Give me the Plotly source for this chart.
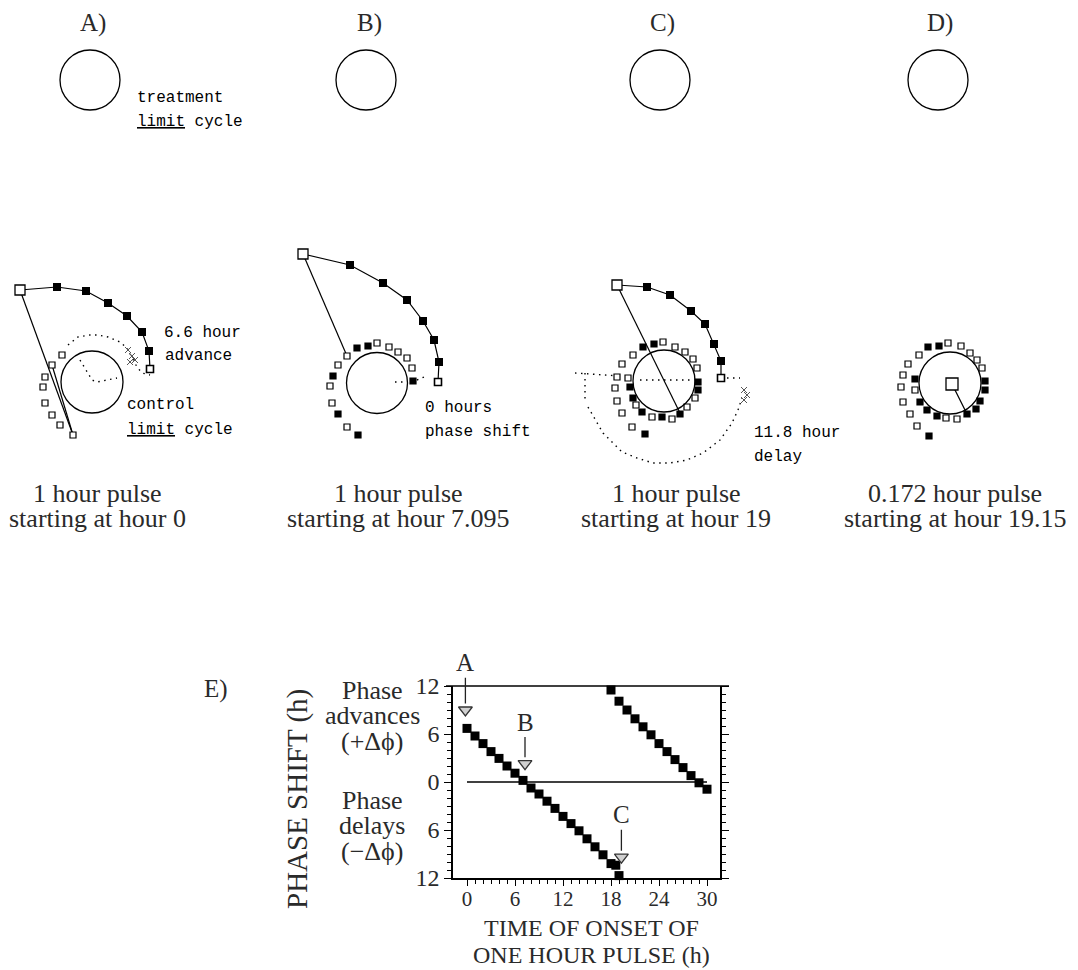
import plotly.graph_objects as go

W, H = 1078, 970

# ======================= DATA : panels A-D (phase plane, control limit cycle centred at 0,0) =======================
PANEL_LETTERS = ["A)", "B)", "C)", "D)"]
PULSE_LENGTH = ["1", "1", "1", "0.172"]
PULSE_START = ["0", "7.095", "19", "19.15"]

CONTROL_RADIUS = [31, 30.5, 31, 31]
TREATMENT_CX = [-2, -11, -4, -12]
TREATMENT_CY = [302, 303, 301, 303]
TREATMENT_RADIUS = [30, 30, 30, 30]

# trajectory during/after pulse (first point = state at end of pulse, drawn as large open square)
A_ARC_X = [-72, -35, -6, 16, 35, 50, 57, 58]
A_ARC_Y = [92, 95, 91, 79, 66, 50, 31, 13]
B_ARC_X = [-74, -27, 6, 30, 46, 57, 62, 61]
B_ARC_Y = [129, 118, 100, 83, 62, 43, 21, 1]
C_ARC_X = [-47, -17, 6, 27, 41, 50, 57, 57]
C_ARC_Y = [96, 94, 86, 70, 57, 37, 20, 3]
D_ARC_X = [2]
D_ARC_Y = [-1]

# straight links (segments separated by None)
A_LINK_X = [-19, -72, None, -40, -19]
A_LINK_Y = [-53, 92, None, 17, -53]
B_LINK_X = [-74, -30]
B_LINK_Y = [129, 27]
C_LINK_X = [-47, 16]
C_LINK_Y = [96, -32]
D_LINK_X = [2, 17]
D_LINK_Y = [-1, -31]

# relaxation spiral squares (1 = filled, 0 = open)
A_SPIRAL_X = [-30, -40, -47, -49, -47, -40, -32, -19]
A_SPIRAL_Y = [27, 17, 5, -5, -21, -33, -43, -53]
A_SPIRAL_FILL = [0, 0, 0, 0, 0, 0, 0, 0]
B_SPIRAL_X = [-30, -20, -9, 0, 12, 21, 30, 35, 36, -39, -44, -47, -45, -39, -30, -19]
B_SPIRAL_Y = [27, 35, 37, 40, 36, 31, 25, 15, 2, 18, 7, -3, -20, -31, -44, -52]
B_SPIRAL_FILL = [0, 1, 1, 0, 0, 0, 0, 0, 1, 0, 1, 0, 0, 1, 0, 1]
C_SPIRAL_X = [-31, -21, -10, -1, 11, 21, 29, 33, 34, 34, 31, 23, 16, 8, -2, -12, -22, -28, -31, -34, -36,
              -42, -47, -49, -47, -42, -32, -19]
C_SPIRAL_Y = [26, 34, 37, 39, 34, 29, 22, 13, -1, -9, -17, -26, -33, -38, -36, -36, -31, -24, -17, -6, 3,
              17, 4, -7, -20, -32, -46, -53]
C_SPIRAL_FILL = [0, 1, 1, 0, 0, 0, 0, 0, 1, 1, 0, 0, 1, 0, 1, 0, 1, 0, 1, 1, 0,
                 0, 0, 0, 0, 0, 0, 1]
D_SPIRAL_X = [-31, -22, -11, -2, 11, 20, 27, 32, 35, 35, 30, 26, 17, 7, -4, -13, -23, -30, -35, -35,
              -42, -47, -49, -47, -40, -33, -21]
D_SPIRAL_Y = [28, 36, 37, 40, 37, 30, 23, 15, 2, -7, -18, -26, -31, -36, -35, -33, -27, -19, -7, 4,
              19, 8, -4, -19, -31, -43, -53]
D_SPIRAL_FILL = [0, 1, 1, 0, 0, 0, 0, 0, 1, 1, 1, 1, 1, 0, 0, 1, 1, 1, 0, 1,
                 0, 0, 0, 0, 0, 0, 1]

# dotted traces (control-cycle trajectory without pulse), paths separated by None
A_DOT_X = [-24, -14, -2, 6, 16, 28, 35, 40, 45, 50, 58, None, -12, -9, -5, 0, 5, 15, 25]
A_DOT_Y = [37, 45, 47, 47, 45, 40, 34, 25, 15, 9, 7, None, 22, 17, 9, 2, 0, 2, 4]
B_DOT_X = [18, 28, None, 40, 47]
B_DOT_Y = [1, 1, None, 3, 6]
C_DOT_X = [-89, -44, None, -79, -79, None, -76, -61, -42, -27, -11, 6, 23, 39, 56, 68, 74, 78,
           None, 57, 76, None, -24, 26]
C_DOT_Y = [8, 5, None, 8, -19, None, -26, -52, -71, -77, -82, -82, -79, -72, -59, -42, -29, -17,
           None, 3, 3, None, 1, 1]
D_DOT_X = []
D_DOT_Y = []

# cross-hatched blobs
A_HATCH_X = [36, 40, 38, 43]
A_HATCH_Y = [32, 26, 20, 22]
C_HATCH_X = [80, 83, 80]
C_HATCH_Y = [-9, -14, -19]

# panel notes (text, x, y in panel units)
A_NOTES = [("6.6 hour", 70, 49), ("advance", 71, 26), ("control", 33, -23),
           ("<u>limit</u> cycle", 33, -48), ("treatment", 43, 284), ("<u>limit</u> cycle", 43, 260)]
B_NOTES = [("0 hours", 46, -25), ("phase shift", 46, -49)]
C_NOTES = [("11.8 hour", 88, -52), ("delay", 88, -76)]
D_NOTES = []

# ======================= DATA : panel E (phase response curve) =======================
E_ONSET_1 = [0, 1, 2, 3, 4, 5, 6, 7, 8, 9, 10, 11, 12, 13, 14, 15, 16, 17, 18, 18.6, 19]
E_SHIFT_1 = [6.7, 5.75, 4.8, 3.8, 2.95, 2.0, 1.1, 0.2, -0.75, -1.5, -2.4, -3.3, -4.3, -5.2, -6.1,
             -7.1, -8.1, -9.1, -10.2, -10.4, -11.7]
E_ONSET_2 = [18, 19, 20, 21, 22, 23, 24, 25, 26, 27, 28, 29, 30]
E_SHIFT_2 = [11.5, 10.1, 9.0, 7.9, 6.9, 5.9, 4.8, 3.8, 2.8, 1.8, 0.8, -0.1, -0.9]
E_ZERO_X = [0, 30]
E_ZERO_Y = [0, 0]
E_ARROW_LABELS = ["A", "B", "C"]
E_ARROW_X = [-0.2, 7.25, 19.3]
E_ARROW_MARK_Y = [9.0, 2.3, -9.4]
E_ARROW_TIP_Y = [9.8, 3.1, -8.6]
E_ARROW_LABEL_Y = [14.9, 7.5, -4.1]
E_X_TICKS = [0, 6, 12, 18, 24, 30]
E_Y_TICKS = [-12, -6, 0, 6, 12]
E_Y_TICKTEXT = ["12", "6", "0", "6", "12"]

# ======================= LAYOUT helpers =======================
OFF = 8  # default page (body) margin of the html page
PANEL_CX_PX = [92, 377, 664, 950]
PANEL_CY_PX = [382, 383, 381, 383]
CAPTION_X_PX = [97, 398, 676, 955]
LETTER_X_PX = [93, 369, 662, 940]
P_XR = [[-84, 125], [-95, 125], [-95, 125], [-95, 120]]
P_YR = [-92, 340]

SERIF = "Liberation Serif"
MONO = "Liberation Mono"
TXT = "#2a2a2a"


def px(xp):
    return (xp - OFF) / W


def py(yp):
    return 1 - (yp - OFF) / H


fig = go.Figure()
layout = dict(width=W, height=H, margin=dict(l=0, r=0, t=0, b=0, pad=0, autoexpand=False),
              paper_bgcolor="white", plot_bgcolor="rgba(0,0,0,0)", showlegend=False, template="none")
shapes = []
annotations = []


def note(text, x, y, xref="paper", yref="paper", size=26, family=SERIF, color=TXT, xanchor="center", **kw):
    d = dict(text=text, x=x, y=y, xref=xref, yref=yref, xanchor=xanchor, yanchor="middle", showarrow=False,
             font=dict(family=family, size=size, color=color))
    d.update(kw)
    annotations.append(d)


panels = [
    (A_ARC_X, A_ARC_Y, A_LINK_X, A_LINK_Y, A_SPIRAL_X, A_SPIRAL_Y, A_SPIRAL_FILL, A_DOT_X, A_DOT_Y,
     A_HATCH_X, A_HATCH_Y, A_NOTES),
    (B_ARC_X, B_ARC_Y, B_LINK_X, B_LINK_Y, B_SPIRAL_X, B_SPIRAL_Y, B_SPIRAL_FILL, B_DOT_X, B_DOT_Y,
     [], [], B_NOTES),
    (C_ARC_X, C_ARC_Y, C_LINK_X, C_LINK_Y, C_SPIRAL_X, C_SPIRAL_Y, C_SPIRAL_FILL, C_DOT_X, C_DOT_Y,
     C_HATCH_X, C_HATCH_Y, C_NOTES),
    (D_ARC_X, D_ARC_Y, D_LINK_X, D_LINK_Y, D_SPIRAL_X, D_SPIRAL_Y, D_SPIRAL_FILL, D_DOT_X, D_DOT_Y,
     [], [], D_NOTES),
]

for i, (ax_, ay_, lx, ly, sx, sy, sf, dx, dy, hx, hy, notes) in enumerate(panels):
    n = i + 2
    xa, ya = f"x{n}", f"y{n}"
    cx, cy = PANEL_CX_PX[i], PANEL_CY_PX[i]
    xr = P_XR[i]
    layout[f"xaxis{n}"] = dict(domain=[px(cx + xr[0]), px(cx + xr[1])], range=xr, visible=False,
                               anchor=ya, fixedrange=True, automargin=False)
    layout[f"yaxis{n}"] = dict(domain=[py(cy - P_YR[0]), py(cy - P_YR[1])], range=P_YR, visible=False,
                               anchor=xa, fixedrange=True, automargin=False)
    # limit cycles
    r = CONTROL_RADIUS[i]
    shapes.append(dict(type="circle", xref=xa, yref=ya, x0=-r, x1=r, y0=-r, y1=r,
                       line=dict(color="black", width=1.3)))
    tr = TREATMENT_RADIUS[i]
    tx, ty = TREATMENT_CX[i], TREATMENT_CY[i]
    shapes.append(dict(type="circle", xref=xa, yref=ya, x0=tx - tr, x1=tx + tr, y0=ty - tr, y1=ty + tr,
                       line=dict(color="black", width=1.3)))
    # dotted
    if dx:
        fig.add_trace(go.Scatter(x=dx, y=dy, xaxis=xa, yaxis=ya, mode="lines",
                                 line=dict(color="black", width=1.4, dash="1.5px,4.5px"), hoverinfo="skip"))
    if hx:
        fig.add_trace(go.Scatter(x=hx, y=hy, xaxis=xa, yaxis=ya, mode="markers",
                                 marker=dict(symbol="x-thin-open", size=6, color="#555",
                                             line=dict(color="#555", width=1)),
                                 hoverinfo="skip"))
    # links
    fig.add_trace(go.Scatter(x=lx, y=ly, xaxis=xa, yaxis=ya, mode="lines",
                             line=dict(color="black", width=1.2), hoverinfo="skip"))
    # spiral
    fig.add_trace(go.Scatter(x=sx, y=sy, xaxis=xa, yaxis=ya, mode="markers",
                             marker=dict(symbol="square", size=6,
                                         color=["black" if f else "white" for f in sf],
                                         line=dict(color="black", width=1.2)), hoverinfo="skip"))
    # arc trajectory
    if len(ax_) > 1:
        fig.add_trace(go.Scatter(x=ax_, y=ay_, xaxis=xa, yaxis=ya, mode="lines",
                                 line=dict(color="black", width=1.2), hoverinfo="skip"))
        fig.add_trace(go.Scatter(x=ax_[1:-1], y=ay_[1:-1], xaxis=xa, yaxis=ya, mode="markers",
                                 marker=dict(symbol="square", size=8, color="black"), hoverinfo="skip"))
        fig.add_trace(go.Scatter(x=[ax_[-1]], y=[ay_[-1]], xaxis=xa, yaxis=ya, mode="markers",
                                 marker=dict(symbol="square", size=7, color="white",
                                             line=dict(color="black", width=1.6)), hoverinfo="skip"))
    fig.add_trace(go.Scatter(x=[ax_[0]], y=[ay_[0]], xaxis=xa, yaxis=ya, mode="markers",
                             marker=dict(symbol="square", size=10 if len(ax_) > 1 else 12, color="white",
                                         line=dict(color="black", width=1.3)), hoverinfo="skip"))
    for (t, nx, ny) in notes:
        note(t, nx, ny, xref=xa, yref=ya, size=16, family=MONO, color="black", xanchor="left")
    # letter + caption
    note(PANEL_LETTERS[i], px(LETTER_X_PX[i]), py(23), size=25)
    note(f"{PULSE_LENGTH[i]} hour pulse", px(CAPTION_X_PX[i]), py(493), size=26)
    note(f"starting at hour {PULSE_START[i]}", px(CAPTION_X_PX[i]), py(518), size=26)

# ---------------- panel E ----------------
E_L, E_R, E_T, E_B = 453, 720, 686, 878
fig.add_trace(go.Scatter(x=E_ZERO_X, y=E_ZERO_Y, mode="lines", line=dict(color="black", width=1.5),
                         hoverinfo="skip"))
fig.add_trace(go.Scatter(x=E_ONSET_1, y=E_SHIFT_1, mode="markers", cliponaxis=False,
                         marker=dict(symbol="square", size=9, color="black"), hoverinfo="skip"))
fig.add_trace(go.Scatter(x=E_ONSET_2, y=E_SHIFT_2, mode="markers", cliponaxis=False,
                         marker=dict(symbol="square", size=9, color="black"), hoverinfo="skip"))
fig.add_trace(go.Scatter(x=E_ARROW_X, y=E_ARROW_MARK_Y, mode="markers", cliponaxis=False,
                         marker=dict(symbol="triangle-down", size=12, color="#d0d0d0",
                                     line=dict(color="#333", width=1.3)), hoverinfo="skip"))
for lab, x, tip, ly in zip(E_ARROW_LABELS, E_ARROW_X, E_ARROW_TIP_Y, E_ARROW_LABEL_Y):
    annotations.append(dict(text=lab, x=x, y=tip, ax=x, ay=ly, xref="x", yref="y", axref="x", ayref="y",
                            showarrow=True, arrowhead=0, arrowwidth=1.3, arrowcolor="#222", standoff=0,
                            font=dict(family=SERIF, size=25, color=TXT)))

layout["xaxis"] = dict(domain=[px(E_L), px(E_R)], range=[-1.75, 31.625], anchor="y", automargin=False,
                       tickmode="array", tickvals=E_X_TICKS, ticks="outside", ticklen=6, tickwidth=1.3,
                       tickcolor="black", showline=True, linecolor="black", linewidth=1.5, mirror=False,
                       showgrid=False, zeroline=False, tickfont=dict(family=SERIF, size=21, color=TXT),
                       ticklabelstandoff=-5,
                       minor=dict(tickmode="array", tickvals=list(range(0, 31)), ticks="outside", ticklen=4,
                                  tickwidth=1.1, tickcolor="black", showgrid=False),
                       fixedrange=True)
layout["yaxis"] = dict(domain=[py(E_B), py(E_T)], range=[-12, 12], anchor="x", automargin=False,
                       tickmode="array", tickvals=E_Y_TICKS, ticktext=E_Y_TICKTEXT, ticks="outside", ticklen=7,
                       tickwidth=1.3, tickcolor="black", showline=True, linecolor="black", linewidth=1.5,
                       mirror="ticks", showgrid=False, zeroline=False,
                       tickfont=dict(family=SERIF, size=24, color=TXT),
                       minor=dict(dtick=1, tick0=0, ticks="outside", ticklen=4, tickwidth=1.1,
                                  tickcolor="black", showgrid=False),
                       fixedrange=True)
shapes.append(dict(type="line", xref="paper", yref="paper", x0=px(446), x1=px(729), y0=py(E_T), y1=py(E_T),
                   line=dict(color="black", width=1.5)))

note("E)", px(216), py(689), size=25)
note("PHASE SHIFT (h)", px(297), py(799), size=29, textangle=-90)
for t, yy in [("Phase", 690), ("advances", 715), ("(+Δϕ)", 741), ("Phase", 800), ("delays", 825),
              ("(−Δϕ)", 851)]:
    note(t, px(372), py(yy), size=26)
for t, yy in [("TIME OF ONSET OF", 928), ("ONE HOUR PULSE (h)", 955)]:
    note(t, px(591), py(yy), size=24)

layout["shapes"] = shapes
layout["annotations"] = annotations
fig.update_layout(**layout)
fig.write_html("out.html")
